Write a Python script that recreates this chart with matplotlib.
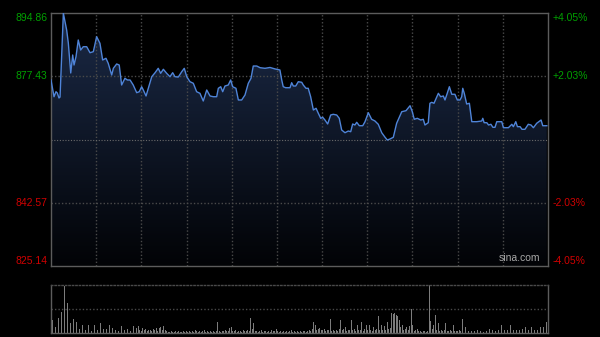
import matplotlib
matplotlib.use('Agg')
import matplotlib.pyplot as plt
import numpy as np
from matplotlib.colors import LinearSegmentedColormap

# price line, minute of session (0..330) and price
minutes = [0, 2.0, 3.3, 4.2, 5.3, 6.0, 8.2, 10.4, 11.5, 13.1, 14.4, 15.3, 16.6, 18.1, 19.7,
           21.4, 23.7, 25.9, 28.1, 30.3, 32.5, 34.3, 36.5, 38.0, 40.3, 41.4, 43.6, 45.3,
           46.9, 49.1, 50.7, 52.5, 54.6, 56.9, 58.6, 60.2, 61.3, 63.1, 64.6, 66.9, 69.1,
           71.2, 72.8, 74.6, 76.8, 79.0, 80.8, 82.3, 84.5, 86.8, 88.5, 90.1, 92.3, 94.5,
           96.7, 98.9, 101.1, 103.4, 105.6, 107.8, 110.0, 111.1, 112.7, 114.0, 115.5, 117.7,
           119.3, 120.6, 122.8, 124.4, 126.6, 128.8, 131.0, 132.8, 134.3, 136.6, 138.8,
           142.1, 145.4, 148.7, 152.0, 153.2, 154.2, 155.8, 158.7, 159.8, 160.9, 162.5,
           164.2, 166.5, 167.5, 169.3, 170.8, 172.4, 174.2, 176.0, 177.5, 179.1, 180.4,
           181.9, 183.7, 185.7, 187.4, 189.7, 191.4, 193.0, 195.2, 197.4, 199.0, 200.3,
           201.8, 203.0, 204.7, 207.0, 208.5, 210.7, 212.9, 215.1, 217.3, 219.6, 221.8,
           223.3, 225.1, 227.3, 229.5, 231.3, 232.9, 235.7, 238.4, 239.9, 241.2, 243.2,
           245.5, 247.2, 248.3, 250.5, 251.6, 252.8, 254.3, 257.2, 258.7, 260.5, 261.6,
           263.1, 264.5, 266.1, 268.2, 269.8, 271.6, 272.7, 273.4, 274.4, 276.0, 277.8,
           279.4, 282.7, 286.0, 286.7, 287.6, 289.4, 290.5, 292.1, 293.4, 294.8, 296.0,
           299.3, 300.4, 303.7, 306.0, 307.0, 308.6, 309.7, 311.5, 312.7, 314.7, 316.9,
           318.7, 320.3, 322.5, 325.4, 326.5, 329.2]
prices = [876.40, 871.79, 873.17, 872.81, 871.44, 871.70, 894.80, 890.18, 886.59, 878.33,
          883.29, 880.53, 882.82, 887.42, 884.66, 885.57, 885.57, 883.92, 884.20, 888.33,
          886.51, 881.91, 882.38, 881.00, 877.77, 879.62, 880.81, 880.53, 875.02, 876.87,
          876.40, 876.40, 875.02, 872.90, 873.17, 874.55, 873.64, 871.99, 874.11, 877.31,
          878.41, 879.62, 878.24, 879.35, 878.24, 877.31, 878.41, 877.31, 877.20, 878.68,
          879.62, 877.31, 875.93, 875.49, 873.17, 872.73, 870.61, 873.64, 871.99, 871.79,
          871.79, 874.11, 874.55, 873.17, 874.74, 875.02, 876.40, 874.55, 874.11, 870.89,
          870.89, 872.26, 875.49, 876.87, 880.25, 880.25, 879.79, 879.62, 879.85, 879.45,
          879.15, 876.40, 874.55, 874.27, 874.27, 875.65, 874.74, 874.74, 875.93, 875.76,
          875.02, 874.11, 874.11, 871.79, 868.13, 868.60, 867.22, 865.84, 866.12, 865.37,
          864.27, 866.75, 866.94, 866.75, 865.84, 862.62, 861.87, 862.34, 862.15, 864.27,
          864.00, 864.74, 863.80, 863.80, 864.91, 867.39, 865.57, 865.10, 864.19, 861.87,
          860.61, 859.86, 860.14, 860.61, 864.47, 866.12, 867.66, 867.94, 869.31, 867.66,
          865.57, 865.84, 865.37, 865.57, 864.00, 864.63, 869.98, 870.25, 869.98, 872.73,
          871.79, 871.99, 870.89, 872.73, 874.55, 872.46, 872.46, 870.89, 870.89, 871.79,
          874.11, 872.73, 869.78, 869.98, 864.91, 864.91, 865.10, 865.84, 864.63, 864.63,
          864.00, 864.19, 863.36, 863.36, 864.91, 864.91, 863.25, 863.25, 864.19, 863.53,
          864.91, 863.53, 863.53, 862.81, 862.81, 864.19, 864.00, 863.25, 864.47, 865.37,
          863.80, 863.80]

# volume per minute, percent of the biggest bar
volume = [
    51, 27, 24, 12, 10, 31, 18, 44, 62, 97, 41, 63, 16, 20, 30, 30, 20, 23, 14, 8, 13, 16, 10, 6, 17, 17, 9, 5, 10, 16,
    24, 6, 9, 20, 5, 9, 6, 9, 5, 16, 14, 10, 4, 7, 6, 4, 9, 14, 30, 6, 13, 9, 7, 4, 13, 14, 5, 10, 14, 7,
    5, 10, 7, 9, 4, 6, 7, 4, 9, 7, 10, 5, 10, 13, 6, 14, 7, 4, 3, 3, 4, 3, 3, 5, 3, 4, 3, 3, 5, 3,
    4, 3, 5, 3, 4, 3, 6, 4, 3, 5, 3, 4, 6, 3, 4, 3, 5, 3, 4, 3, 5, 22, 4, 3, 5, 4, 6, 4, 5, 10,
    13, 5, 4, 6, 3, 4, 5, 3, 6, 4, 5, 7, 5, 31, 8, 20, 4, 5, 3, 4, 6, 3, 4, 5, 3, 4, 3, 6, 4, 5,
    9, 5, 3, 4, 3, 5, 3, 4, 3, 5, 7, 3, 4, 3, 5, 3, 4, 3, 4, 5, 3, 4, 6, 5, 8, 22, 16, 6, 8, 10,
    7, 6, 8, 5, 7, 6, 30, 5, 7, 4, 6, 5, 8, 27, 6, 8, 13, 5, 6, 7, 28, 6, 8, 5, 17, 6, 7, 23, 5, 8,
    16, 6, 16, 7, 5, 13, 6, 8, 36, 7, 16, 6, 15, 7, 23, 8, 10, 41, 39, 41, 38, 35, 27, 12, 16, 7, 9, 13, 6, 14,
    51, 16, 5, 6, 9, 4, 5, 3, 4, 5, 3, 4, 100, 24, 8, 17, 37, 6, 21, 5, 7, 4, 6, 21, 5, 4, 6, 5, 17, 4,
    5, 4, 6, 5, 29, 7, 13, 5, 4, 3, 4, 3, 5, 4, 6, 10, 4, 5, 3, 6, 4, 5, 9, 6, 7, 55, 5, 8, 6, 7,
    17, 5, 7, 4, 6, 8, 17, 5, 7, 4, 6, 5, 7, 4, 8, 6, 13, 5, 7, 6, 13, 8, 6, 24, 7, 9, 13, 10, 12, 27,
    23,
]

y_low, y_high = 825.14, 894.86
left_labels = ['894.86', '877.43', '842.57', '825.14']
right_labels = ['+4.05%', '+2.03%', '-2.03%', '-4.05%']
label_values = [894.86, 877.43, 842.57, 825.14]
prev_close = 860.0

GREEN = '#00a000'
RED = '#d00000'
GRID = '#4a4a4a'
EDGE = '#5c5c5c'

plt.rcParams['font.family'] = ['Liberation Sans', 'DejaVu Sans']

fig = plt.figure(figsize=(6, 3.37), dpi=100, facecolor='black')
ax = fig.add_axes([51 / 600, 1 - 266 / 337, 497 / 600, 253 / 337])
vax = fig.add_axes([51 / 600, 1 - 333 / 337, 497 / 600, 48 / 337])

for a in (ax, vax):
    a.set_facecolor('black')
    a.set_xticks([])
    a.set_yticks([])
    for s in a.spines.values():
        s.set_color(EDGE)
        s.set_linewidth(1)

# gradient fill under the price line
poly = ax.fill_between(minutes, prices, y_low, color='none', lw=0)
grad = np.linspace(0, 1, 256).reshape(-1, 1)
cmap = LinearSegmentedColormap.from_list('fade', ['#020306', '#1b2a47'])
im = ax.imshow(grad, extent=[0, 330, y_low, y_high], origin='lower',
               aspect='auto', cmap=cmap, zorder=1)
im.set_clip_path(poly.get_paths()[0], transform=ax.transData)

# grid
for gx in range(30, 330, 30):
    ax.axvline(gx, color=GRID, lw=1, ls=(0, (1, 1.5)), zorder=2)
for gy in (877.43, 842.57):
    ax.axhline(gy, color=GRID, lw=1, ls=(0, (1, 1.5)), zorder=2)
ax.axhline(prev_close, color='#6a6a6a', lw=0.8, ls=(0, (1, 1.5)), zorder=2)

ax.plot(minutes, prices, color='#4f84d8', lw=1.0, zorder=3)
ax.set_xlim(0, 330)
ax.set_ylim(y_low, y_high)

# price labels
tr_left = ax.get_yaxis_transform()
for val, lab, rl in zip(label_values, left_labels, right_labels):
    col = GREEN if val > prev_close else RED
    va = 'center'
    if val == y_high:
        va = 'top'
    elif val == y_low:
        va = 'bottom'
    ax.text(-0.008, val, lab, transform=tr_left, ha='right', va=va,
            color=col, fontsize=7.5)
    ax.text(1.01, val, rl, transform=tr_left, ha='left', va=va,
            color=col, fontsize=7.5)

ax.text(0.985, 0.012, 'sina.com', transform=ax.transAxes, ha='right',
        va='bottom', color='#a8a8a8', fontsize=7.5, zorder=4)

# volume bars
vax.bar(np.arange(len(volume)), volume, width=0.55, color='#7c7c7c', lw=0)
vax.axhline(50, color=GRID, lw=1, ls=(0, (1, 1.5)))
vax.spines['top'].set_linestyle((0, (1, 1.5)))
vax.spines['top'].set_color(GRID)
vax.set_xlim(0, 331)
vax.set_ylim(0, 100)

fig.savefig('out.png', dpi=100, facecolor='black')
